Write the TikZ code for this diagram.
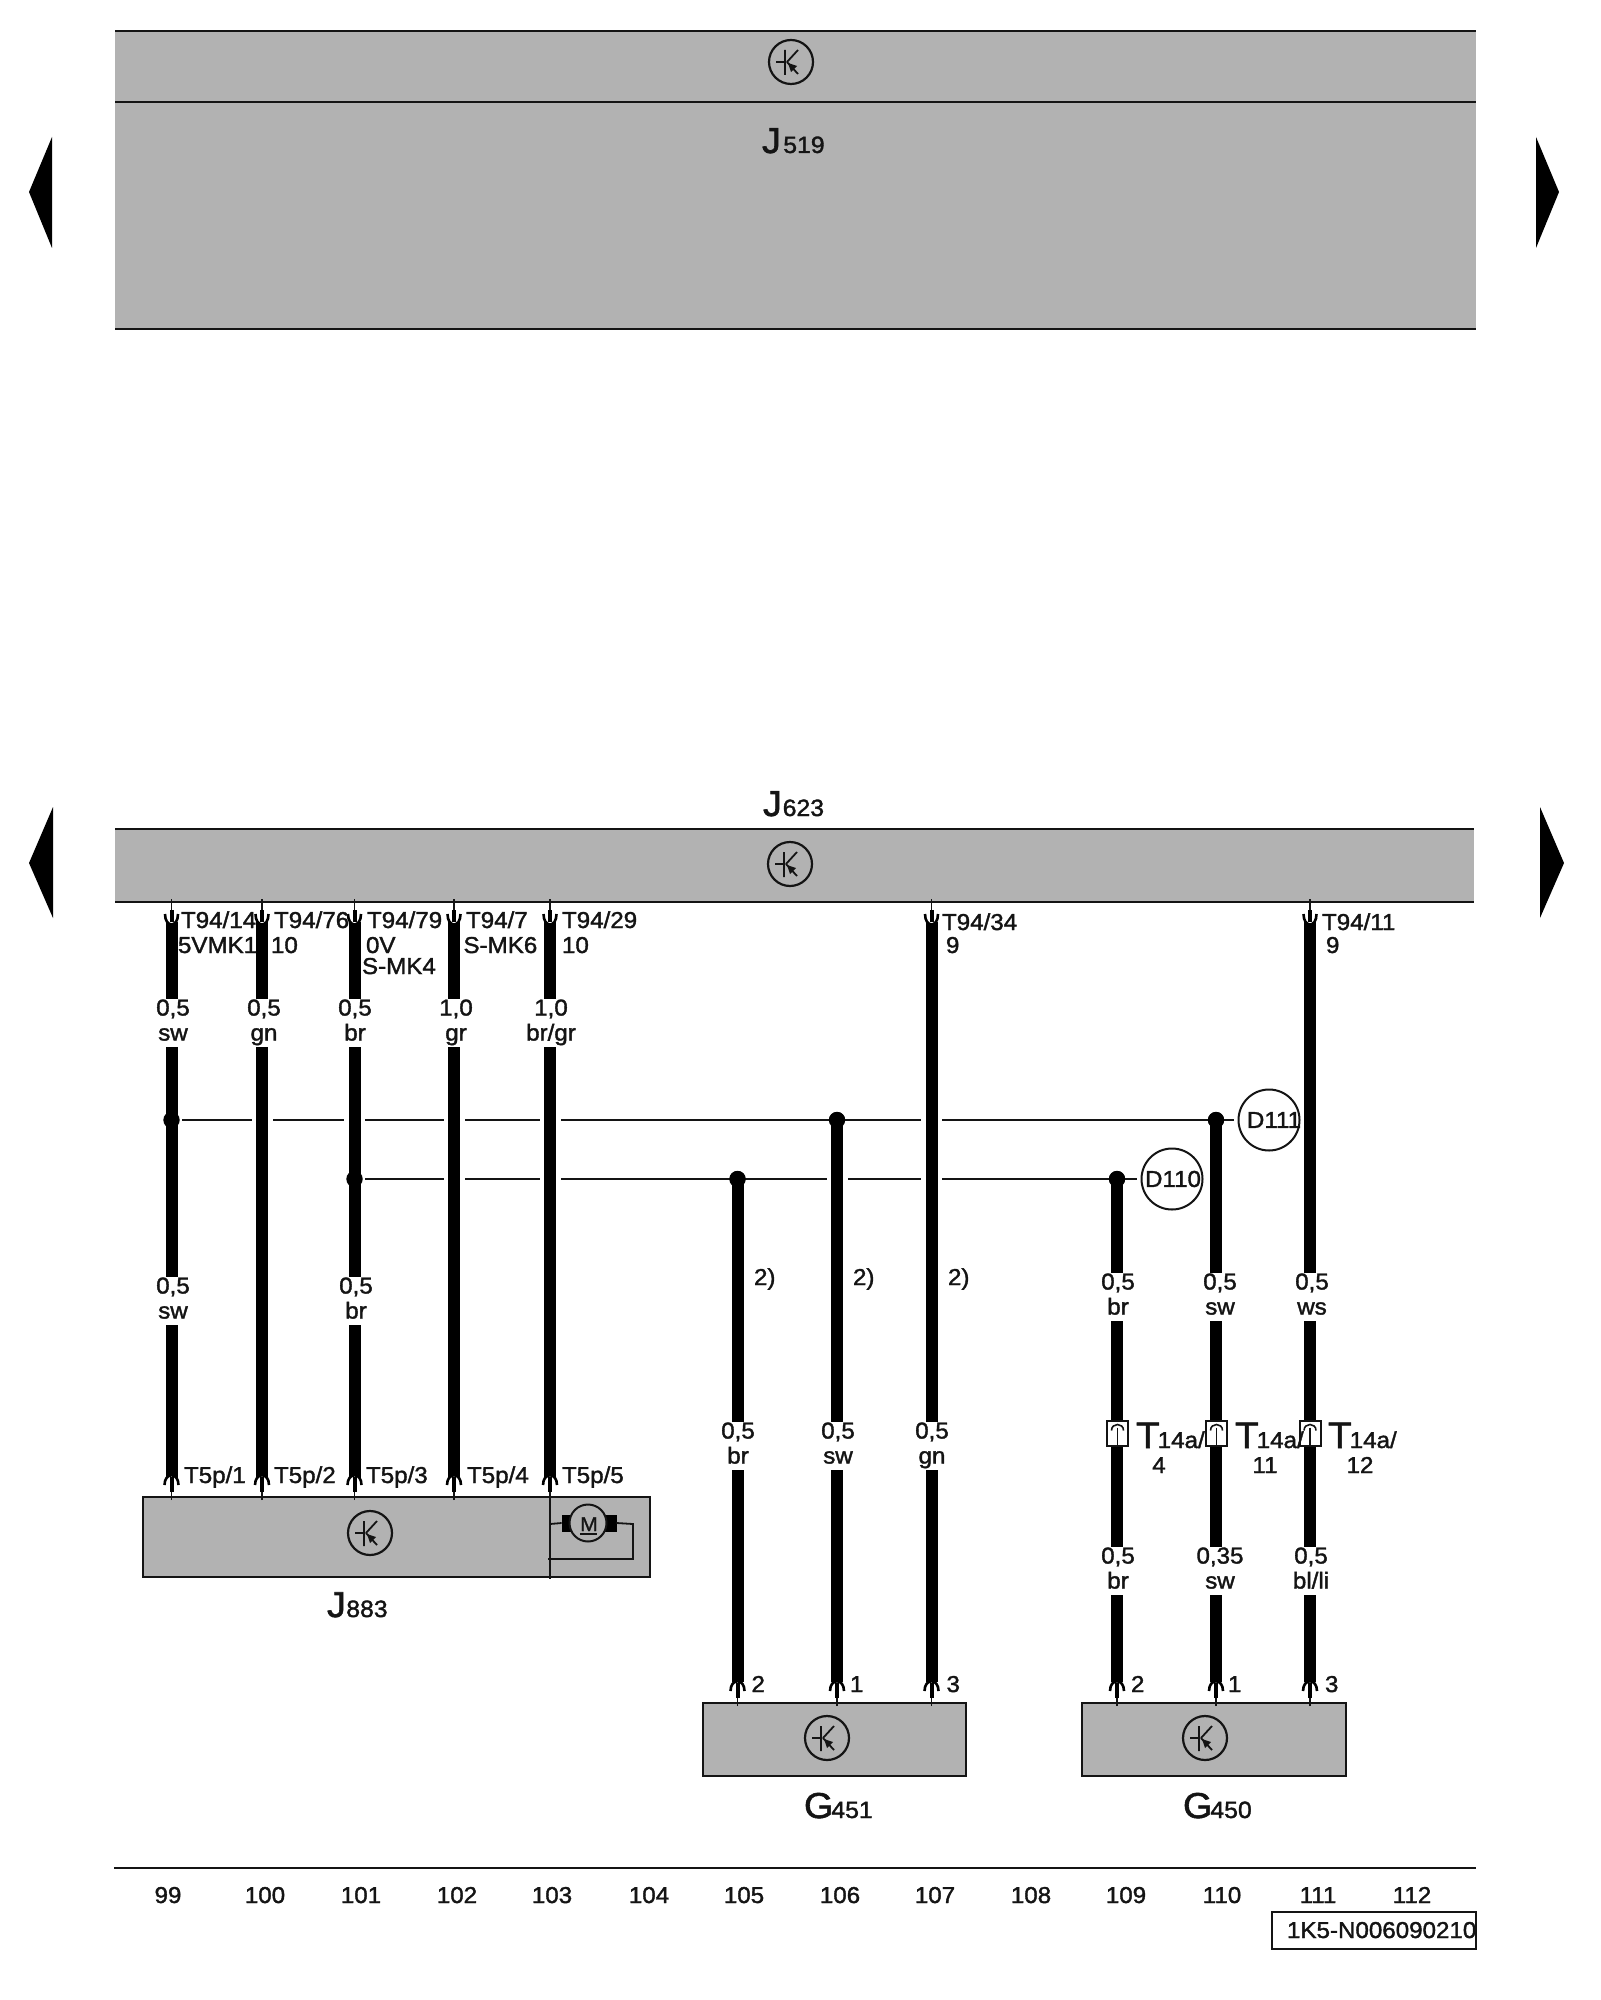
\documentclass[tikz,border=0pt]{standalone}
\usepackage{fontspec}
\setmainfont{Liberation Sans}[FakeBold=1.6,FakeStretch=1.05]
\definecolor{bandgray}{HTML}{B2B2B2}
\definecolor{ink}{HTML}{141414}
\newcommand\mainfs{\fontsize{11.5}{12.5}\selectfont}
\newcommand\bigsub[3][.8pt]{{\fontsize{18}{18}\selectfont #2}\hspace{#1}{\fontsize{11.8}{12}\selectfont #3}}
\newcommand\tsub[1]{{\fontsize{18.5}{18.5}\selectfont T}\hspace{-1pt}{\fontsize{11.5}{12}\selectfont #1}}
\tikzset{
  band/.style={fill=bandgray,inner sep=0,outer sep=0},
  rule/.style={draw=ink,line width=1pt},
  thinrule/.style={draw=ink,line width=.75pt},
  ubox/.style={draw=ink,line width=1pt,fill=bandgray,inner sep=0,outer sep=0},
  wirebar/.style={draw=black,line width=6pt},
  gapwire/.style={draw=black,line width=6pt,preaction={draw=white,line width=10.5pt}},
  txt/.style={inner sep=0,outer sep=0,anchor=base west,font=\mainfs,text=ink},
  wlabel/.style={fill=white,inner sep=0,outer sep=0,align=center,font=\mainfs,text=ink,minimum width=6.5pt},
  dot/.style={circle,fill=black,inner sep=0,minimum size=8pt},
  colnum/.style={inner sep=0,outer sep=0,anchor=base,font=\mainfs,text=ink},
  conn/.style={draw=ink,line width=1pt,fill=white,inner sep=0,outer sep=0,minimum width=10.5pt,minimum height=12.5pt},
  circ/.style={circle,draw=ink,line width=1pt,inner sep=0,outer sep=0,minimum size=30.5pt,font=\mainfs,text=ink},
  ecu/.pic={
    \draw[ink,line width=1.1pt] (0,0) circle[radius=11pt];
    \draw[ink,line width=.9pt] (-6,-12)--(-6,13) (-15,0)--(-6,0) (-4,0)--(7,-12) (-4,0)--(7,12);
    \fill[ink] (-3,1)--(6,4)--(0,10)--cycle;
  },
  pindown/.pic={
    \fill[white] (-6.5,12) .. controls (-6.5,26) and (6.5,26) .. (6.5,12) -- cycle;
    \draw[ink,line width=.75pt] (0,-3)--(0,8);
    \draw[black,line width=2pt] (0,8)--(0,20);
    \draw[black,line width=1.3pt] (-6.5,12) .. controls (-6.5,26) and (6.5,26) .. (6.5,12);
  },
  pinup/.pic={
    \fill[white] (-7,-12) .. controls (-7,-25) and (7,-25) .. (7,-12) -- cycle;
    \draw[ink,line width=.75pt] (0,3)--(0,-10);
    \draw[black,line width=2pt] (0,-5)--(0,-20);
    \draw[black,line width=1.3pt] (-7,-12) .. controls (-7,-25) and (7,-25) .. (7,-12);
  },
  connmark/.pic={
    \draw[ink,line width=.8pt] (-6,-3) .. controls (-6,-11) and (6,-11) .. (6,-3);
    \draw[ink,line width=.8pt] (0,-6)--(0,12);
  },
}
\newcommand\wlab[4]{\node[wlabel] (#1) at (#2) {#3\\#4\rule[-3pt]{0pt}{3pt}};}
\begin{document}
\begin{tikzpicture}[x=.5pt,y=-.5pt]
\useasboundingbox (0,0) rectangle (1600,2000);
% bands
\node[band,minimum width=680.5pt,minimum height=149pt] (J519) at (795.5,180.5) {};
\draw[rule] (J519.north west)--(J519.north east);
\draw[rule] (J519.south west)--(J519.south east);
\coordinate (J519sepL) at (115,102);
\coordinate (J519sepR) at (1476,102);
\draw[rule] (J519sepL)--(J519sepR);
\pic at (791,62) {ecu};
\node[txt] (J519t) at (762,153) {\bigsub[1.2pt]{J}{519}};
\node[band,minimum width=679.5pt,minimum height=36.5pt] (J623) at (794.5,865.5) {};
\draw[rule] (J623.north west)--(J623.north east);
\draw[rule] (J623.south west)--(J623.south east);
\pic at (790,864) {ecu};
\node[txt] (J623t) at (763,816) {\bigsub[.4pt]{J}{623}};
% side arrows
\fill[black] (52,137)--(29,192)--(52,248)--cycle;
\fill[black] (1536,137)--(1559,192)--(1536,248)--cycle;
\fill[black] (53,807)--(29,863)--(53,918)--cycle;
\fill[black] (1540,807)--(1564,863)--(1540,918)--cycle;
% dots + circles
\node[dot] (dA) at (171.5,1120) {};
\node[dot] (dB) at (354.5,1179) {};
\node[dot] (dC) at (737.5,1179) {};
\node[dot] (dD) at (837,1120) {};
\node[dot] (dE) at (1117,1179) {};
\node[dot] (dF) at (1216,1120) {};
\node[circ] (D110) at (1172,1179) {\makebox[0pt][c]{\hspace*{1pt}D110}};
\node[circ] (D111) at (1269,1120) {\makebox[0pt][c]{\hspace*{5pt}D111}};
% horizontal lines
\draw[thinrule] (dA.center)--(dF.center);
\draw[thinrule] (dB.center)--(dE.center);
\draw[thinrule,shorten >=2.5pt] (dF)--(D111);
\draw[thinrule,shorten >=2.5pt] (dE)--(D110);
% component boxes
\node[ubox,minimum width=253.5pt,minimum height=40pt] (J883) at (396.5,1537) {};
\node[ubox,minimum width=131.5pt,minimum height=36.5pt] (G451) at (834.5,1739.5) {};
\node[ubox,minimum width=132pt,minimum height=36.5pt] (G450) at (1214,1739.5) {};
\pic at (370,1533) {ecu};
\pic at (827,1738) {ecu};
\pic at (1205,1738) {ecu};
% wire end points
\foreach \n/\x in {a/171.5,b/262,c/354.5,d/454,e/550,f/931.5,g/1310}{
  \coordinate (top\n) at (\x,922);
}
\coordinate (bota) at (171.5,1478);
\coordinate (botb) at (262,1478);
\coordinate (botc) at (354.5,1478);
\coordinate (botd) at (454,1478);
\coordinate (bote) at (550,1478);
\coordinate (botf) at (931.5,1682);
\coordinate (botg) at (1310,1682);
\coordinate (both) at (737.5,1682);
\coordinate (boti) at (837,1682);
\coordinate (botj) at (1117,1682);
\coordinate (botk) at (1216,1682);
\coordinate (dDw) at (837,1122);
% wires
\draw[gapwire] (topa)--(bota);
\draw[gapwire] (topb)--(botb);
\draw[gapwire] (topc)--(botc);
\draw[gapwire] (topd)--(botd);
\draw[gapwire] (tope)--(bote);
\draw[gapwire] (topf)--(botf);
\draw[wirebar] (topg)--(botg);
\draw[wirebar] (dC.center)--(both);
\draw[gapwire] (dDw)--(boti);
\draw[wirebar] (dE.center)--(botj);
\draw[wirebar] (dF.center)--(botk);
\foreach \d in {dA,dB,dC,dD,dE,dF}{\fill[black] (\d) circle[radius=4.1pt];}
% pins
\foreach \x in {171.5,262,354.5,454,550,931.5,1310}{\pic at (\x,902) {pindown};}
\foreach \x in {171.5,262,354.5,454,550}{\pic at (\x,1497) {pinup};}
\foreach \x in {737.5,837,931.5,1117,1216,1310}{\pic at (\x,1703) {pinup};}
% band pin labels
\node[txt] (t1) at (181,928) {T94/14};
\node[txt] (t1b) at (178,953) {5VMK1};
\node[txt] (t2) at (274,928) {T94/76};
\node[txt] (t2b) at (271,953) {10};
\node[txt] (t3) at (367,928) {T94/79};
\node[txt] (t3b) at (366,953) {0V};
\node[txt] (t3c) at (362,974) {S-MK4};
\node[txt] (t4) at (466,928) {T94/7};
\node[txt] (t4b) at (463.5,953) {S-MK6};
\node[txt] (t5) at (562,928) {T94/29};
\node[txt] (t5b) at (562,953) {10};
\node[txt] (t6) at (942,930) {T94/34};
\node[txt] (t6b) at (946,953) {9};
\node[txt] (t7) at (1322,930) {T94/11};
\node[txt] (t7b) at (1326,953) {9};
% wire labels
\wlab{la1}{173,1023}{0,5}{sw}
\wlab{lb1}{264,1023}{0,5}{gn}
\wlab{lc1}{355,1023}{0,5}{br}
\wlab{ld1}{456,1023}{1,0}{gr}
\wlab{le1}{551,1023}{1,0}{br/gr}
\wlab{la2}{173,1301}{0,5}{sw}
\wlab{lc2}{356,1301}{0,5}{br}
\wlab{lh1}{738,1446}{0,5}{br}
\wlab{li1}{838,1446}{0,5}{sw}
\wlab{lf1}{932,1446}{0,5}{gn}
\wlab{lj1}{1118,1297}{0,5}{br}
\wlab{lk1}{1220,1297}{0,5}{sw}
\wlab{lg1}{1312,1297}{0,5}{ws}
\wlab{lj2}{1118,1571}{0,5}{br}
\wlab{lk2}{1220,1571}{0,35}{sw}
\wlab{lg2}{1311,1571}{0,5}{bl/li}
\node[txt] (n2a) at (754,1285) {2)};
\node[txt] (n2b) at (853,1285) {2)};
\node[txt] (n2c) at (948,1285) {2)};
% connectors T14a
\node[conn] (ca) at (1117.5,1433.5) {};
\node[conn] (cb) at (1216.5,1433.5) {};
\node[conn] (cc) at (1310,1433.5) {};
\pic at (1117.5,1433.5) {connmark};
\pic at (1216.5,1433.5) {connmark};
\pic at (1310,1433.5) {connmark};
\node[txt] (ta) at (1136,1448) {\tsub{14a/}};
\node[txt] (tb) at (1235,1448) {\tsub{14a/}};
\node[txt] (tc) at (1328,1448) {\tsub{14a/}};
\node[colnum] (ta2) at (1159,1473) {4};
\node[colnum] (tb2) at (1265,1473) {11};
\node[colnum] (tc2) at (1360,1473) {12};
% J883 labels + motor
\node[txt] (p1) at (184,1483) {T5p/1};
\node[txt] (p2) at (274,1483) {T5p/2};
\node[txt] (p3) at (366,1483) {T5p/3};
\node[txt] (p4) at (467,1483) {T5p/4};
\node[txt] (p5) at (562,1483) {T5p/5};
\coordinate (divT) at (550,1497);
\coordinate (divB) at (550,1579);
\draw[rule] (divT)--(divB);
\coordinate (mL) at (550,1524);
\coordinate (mR) at (633,1524);
\coordinate (mRd) at (633,1559);
\coordinate (mLd) at (548,1559);
\node[draw=black,fill=black,inner sep=0,minimum width=27pt,minimum height=8pt] (brush) at (589,1523) {};
\draw[rule,line width=.9pt] (mL)--(brush.west);
\draw[rule,line width=.9pt] (brush.east)--(mR)--(mRd)--(mLd);
\node[circle,draw=ink,fill=bandgray,line width=1pt,inner sep=0,minimum size=18.5pt] (motor) at (588,1523) {};
\node[inner sep=0,anchor=base,font=\fontsize{10}{10}\selectfont,text=ink] (M) at (589,1531) {M};
\coordinate (uL) at (580,1534);
\coordinate (uR) at (597,1534);
\draw[ink,line width=.7pt] (uL)--(uR);
\node[txt] (J883t) at (327,1617) {\bigsub[.2pt]{J}{883}};
% G labels
\node[txt] (g1) at (751.5,1692) {2};
\node[txt] (g2) at (850,1692) {1};
\node[txt] (g3) at (946.5,1692) {3};
\node[txt] (g4) at (1131,1692) {2};
\node[txt] (g5) at (1228,1692) {1};
\node[txt] (g6) at (1325,1692) {3};
\node[txt] (G451t) at (804,1818) {\bigsub[-1pt]{G}{451}};
\node[txt] (G450t) at (1183,1818) {\bigsub[-1pt]{G}{450}};
% footer
\coordinate (fL) at (114,1868);
\coordinate (fR) at (1476,1868);
\draw[rule] (fL)--(fR);
\foreach \t/\x in {99/168,100/265,101/361,102/457,103/552,104/649,105/744,106/840,107/935,108/1031,109/1126,110/1222,111/1318,112/1412}{
  \node[colnum] (col\t) at (\x,1903) {\t};
}
\node[draw=ink,line width=1pt,inner sep=0,outer sep=0,minimum width=102pt,minimum height=18.5pt] (refbox) at (1374,1930.5) {};
\node[txt] (reft) at (1287,1938) {1K5-N006090210};
\end{tikzpicture}
\end{document}
